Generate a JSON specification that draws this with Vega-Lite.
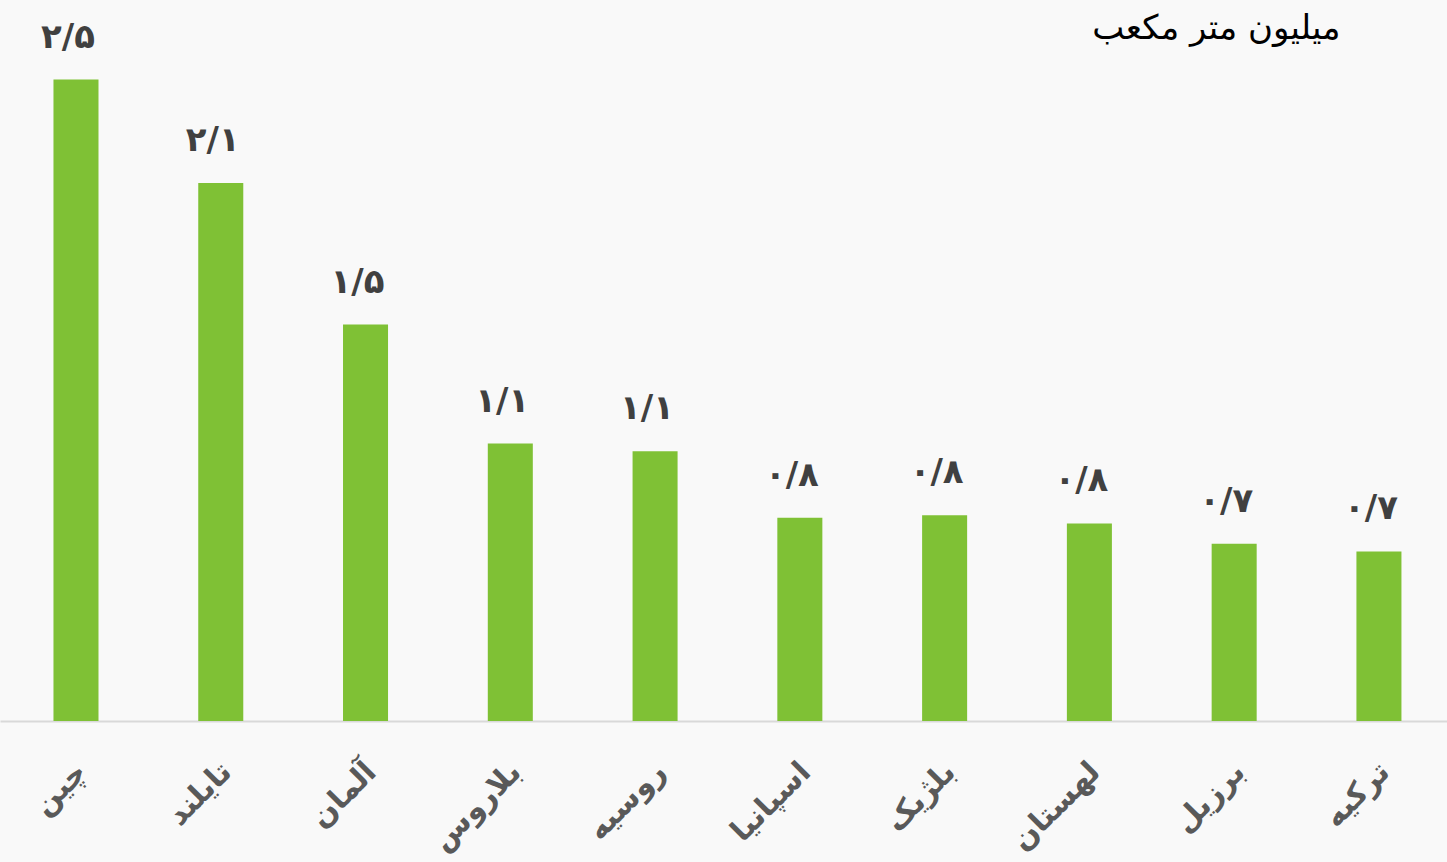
{
  "$schema": "https://vega.github.io/schema/vega-lite/v6.json",
  "width": 1447,
  "height": 661,
  "autosize": {"type": "none"},
  "padding": {"left": 0, "top": 60, "right": 0, "bottom": 141},
  "background": "#f9f9f9",
  "config": {"view": {"stroke": null}},
  "data": {
    "values": [
      {"country": "چین", "value": 2.5, "label": "۲/۵"},
      {"country": "تایلند", "value": 2.097, "label": "۲/۱"},
      {"country": "آلمان", "value": 1.545, "label": "۱/۵"},
      {"country": "بلاروس", "value": 1.081, "label": "۱/۱"},
      {"country": "روسیه", "value": 1.051, "label": "۱/۱"},
      {"country": "اسپانیا", "value": 0.792, "label": "۰/۸"},
      {"country": "بلژیک", "value": 0.802, "label": "۰/۸"},
      {"country": "لهستان", "value": 0.77, "label": "۰/۸"},
      {"country": "برزیل", "value": 0.691, "label": "۰/۷"},
      {"country": "ترکیه", "value": 0.661, "label": "۰/۷"}
    ]
  },
  "encoding": {
    "x": {
      "field": "country",
      "type": "nominal",
      "sort": null,
      "scale": {"paddingInner": 0.689, "paddingOuter": 0.342, "align": 0.54},
      "axis": {
        "title": null,
        "labelAngle": -45,
        "labelAlign": "right",
        "labelBaseline": "middle",
        "labelPadding": 46,
        "labelOffset": 6,
        "labelFont": "DejaVu Sans",
        "labelFontSize": 30,
        "labelFontWeight": "bold",
        "labelColor": "#595959",
        "labelLimit": 0,
        "ticks": false,
        "domainColor": "#d9d9d9",
        "domainWidth": 2,
        "grid": false
      }
    },
    "y": {
      "field": "value",
      "type": "quantitative",
      "scale": {"domain": [0, 2.576], "nice": false, "zero": true},
      "axis": {
        "orient": "right",
        "domain": false,
        "labels": false,
        "ticks": false,
        "grid": false,
        "title": "میلیون متر مکعب",
        "titleAngle": 0,
        "titleX": -107,
        "titleY": -22,
        "titleAlign": "right",
        "titleBaseline": "alphabetic",
        "titleFont": "DejaVu Sans",
        "titleFontSize": 34,
        "titleFontWeight": "normal",
        "titleColor": "#000000"
      }
    }
  },
  "layer": [
    {"mark": {"type": "bar", "color": "#7fc135"}},
    {
      "mark": {
        "type": "text",
        "baseline": "alphabetic",
        "dy": -32,
        "dx": -8,
        "font": "DejaVu Sans",
        "fontSize": 34,
        "fontWeight": "bold",
        "color": "#404040"
      },
      "encoding": {"text": {"field": "label"}}
    }
  ]
}
